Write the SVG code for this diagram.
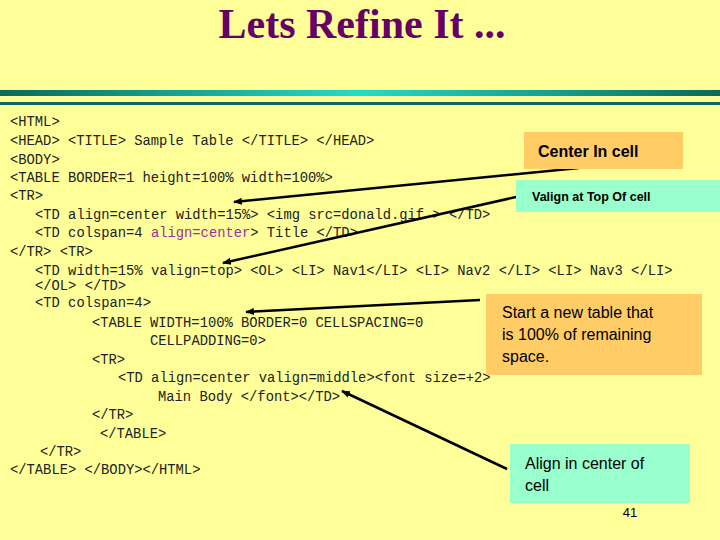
<svg xmlns="http://www.w3.org/2000/svg" width="720" height="540" viewBox="0 0 720 540">
<defs>
<linearGradient id="bar" x1="0" x2="1" y1="0" y2="0">
<stop offset="0" stop-color="#0b6a5a"/><stop offset="0.5" stop-color="#22dcc8"/><stop offset="1" stop-color="#0b6a5a"/>
</linearGradient>
<marker id="ah" viewBox="0 0 10 10" refX="9" refY="5" markerWidth="3.5" markerHeight="3.5" orient="auto"><path d="M0,1 L10,5 L0,9 z" fill="#000"/></marker>
<style>
.code{font-family:"Liberation Mono","Courier New",monospace;font-size:13.8px;fill:#222;white-space:pre}
.m{fill:#a0309a}
.lbl{font-family:"Liberation Sans",Arial,sans-serif;font-weight:bold;fill:#000}
.lbl2{font-family:"Liberation Sans",Arial,sans-serif;fill:#000}
.conn{stroke:#000;stroke-width:2.5;fill:none;marker-end:url(#ah)}
</style>
</defs>
<rect width="720" height="540" fill="#ffff99"/>
<text x="362" y="38" text-anchor="middle" font-family="Liberation Serif,serif" font-weight="bold" font-size="42" fill="#660066">Lets Refine It ...</text>
<rect x="0" y="90" width="720" height="6" fill="url(#bar)"/>
<rect x="0" y="102" width="720" height="3" fill="#0b6a5a"/>
<g id="code" class="code">
<text x="10" y="126">&lt;HTML&gt;</text>
<text x="10" y="145">&lt;HEAD&gt; &lt;TITLE&gt; Sample Table &lt;/TITLE&gt; &lt;/HEAD&gt;</text>
<text x="10" y="164">&lt;BODY&gt;</text>
<text x="10" y="182">&lt;TABLE BORDER=1 height=100% width=100%&gt;</text>
<text x="10" y="200">&lt;TR&gt;</text>
<text x="35" y="219">&lt;TD align=center width=15%&gt; &lt;img src=donald.gif &gt;  &lt;/TD&gt;</text>
<text x="35" y="237">&lt;TD colspan=4 <tspan class="m">align=center</tspan>&gt; Title &lt;/TD&gt;</text>
<text x="10" y="256">&lt;/TR&gt; &lt;TR&gt;</text>
<text x="35" y="275">&lt;TD width=15% valign=top&gt; &lt;OL&gt; &lt;LI&gt; Nav1&lt;/LI&gt; &lt;LI&gt; Nav2 &lt;/LI&gt; &lt;LI&gt; Nav3 &lt;/LI&gt;</text>
<text x="35" y="290">&lt;/OL&gt; &lt;/TD&gt;</text>
<text x="35" y="307">&lt;TD colspan=4&gt;</text>
<text x="92" y="327">&lt;TABLE WIDTH=100% BORDER=0 CELLSPACING=0</text>
<text x="150" y="345">CELLPADDING=0&gt;</text>
<text x="92" y="364">&lt;TR&gt;</text>
<text x="118" y="382">&lt;TD align=center valign=middle&gt;&lt;font size=+2&gt;</text>
<text x="158" y="401">Main Body &lt;/font&gt;&lt;/TD&gt;</text>
<text x="92" y="419">&lt;/TR&gt;</text>
<text x="100" y="438">&lt;/TABLE&gt;</text>
<text x="40" y="456">&lt;/TR&gt;</text>
<text x="10" y="474">&lt;/TABLE&gt; &lt;/BODY&gt;&lt;/HTML&gt;</text>
</g>
<g id="connectors">
<line class="conn" x1="579" y1="168" x2="234" y2="202"/>
<line class="conn" x1="516" y1="197" x2="223" y2="263"/>
<line class="conn" x1="480" y1="300" x2="246" y2="312"/>
<line class="conn" x1="507" y1="469" x2="342" y2="391"/>
</g>
<g id="n-center"><rect x="524" y="132" width="159" height="37" fill="#ffcc66"/><text class="lbl" x="538" y="157" font-size="16">Center In cell</text></g>
<g id="n-valign"><rect x="516" y="180" width="204" height="32" fill="#99ffcc"/><text class="lbl" x="532" y="201" font-size="12.5">Valign at Top  Of cell</text></g>
<g id="n-start"><rect x="486" y="294" width="216" height="81" fill="#ffcc66"/><text class="lbl2" x="502" y="318" font-size="16">Start a new table that</text><text class="lbl2" x="502" y="340" font-size="16">is 100% of remaining</text><text class="lbl2" x="502" y="362" font-size="16">space.</text></g>
<g id="n-align"><rect x="510" y="444" width="180" height="59" fill="#99ffcc"/><text class="lbl2" x="525" y="469" font-size="16">Align in center of</text><text class="lbl2" x="525" y="491" font-size="16">cell</text></g>
<text x="630" y="517" text-anchor="middle" font-family="Liberation Sans,sans-serif" font-size="13" fill="#000">41</text>
</svg>
